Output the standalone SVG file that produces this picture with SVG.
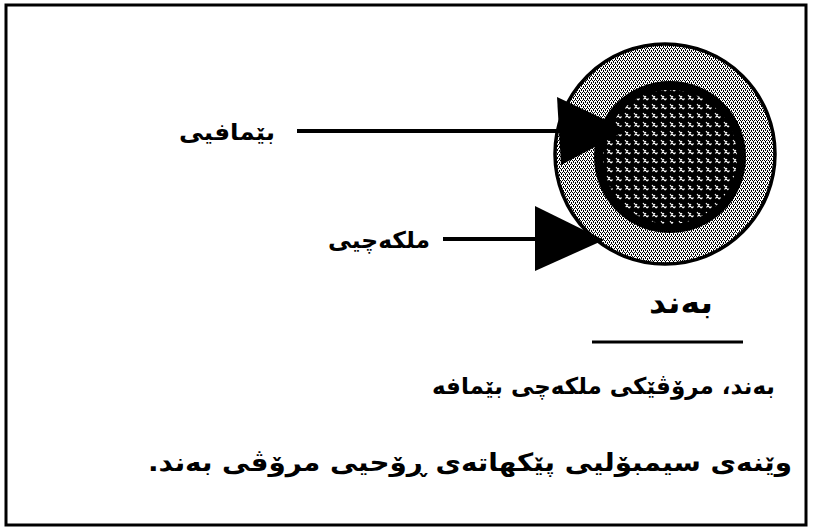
<svg xmlns="http://www.w3.org/2000/svg" width="813" height="528" viewBox="0 0 813 528">
<style>
.t{font-family:"DejaVu Sans","Noto Sans",sans-serif;font-weight:bold;fill:#000}
.ln{stroke:#000;stroke-width:4;fill:none}
.ah{fill:#000;stroke:none}
</style>
<defs>
<pattern id="dither" width="4" height="4" patternUnits="userSpaceOnUse">
<rect width="4" height="4" fill="#fff"/>
<rect x="0" y="0" width="1" height="1" fill="#000"/>
<rect x="2" y="0" width="1" height="1" fill="#000"/>
<rect x="1" y="2" width="1" height="1" fill="#000"/>
<rect x="3" y="2" width="1" height="1" fill="#000"/>
<rect x="1" y="1" width="1" height="1" fill="#000"/>
<rect x="3" y="3" width="1" height="1" fill="#000"/>
</pattern>
<pattern id="mesh" width="9" height="9" patternUnits="userSpaceOnUse" x="2" y="3">
<rect width="9" height="9" fill="#000"/>
<path d="M2 2 L6 7 M5 3 L2.5 6.5 M6 7 L7.5 5.5" stroke="#fff" stroke-width="1.2" fill="none"/>
</pattern>
</defs>
<rect x="0" y="0" width="813" height="528" fill="#fff"/>
<rect x="6" y="5" width="800" height="520" fill="none" stroke="#000" stroke-width="3"/>

<g id="symbol">
<circle cx="665" cy="154" r="110" fill="url(#dither)" stroke="#000" stroke-width="3.5"/>
<circle cx="670" cy="157" r="76" fill="#000"/>
<circle cx="670" cy="157" r="67" fill="url(#mesh)"/>
</g>

<g id="connectors">
<line class="ln" x1="297" y1="131" x2="562" y2="131"/>
<polygon class="ah" points="557,97 561,165 627,130"/>
<line class="ln" x1="443" y1="239" x2="537" y2="239"/>
<polygon class="ah" points="535,206 535,271 604,240"/>
<line x1="592" y1="342" x2="743" y2="342" stroke="#000" stroke-width="3"/>
</g>

<g id="label-bemafi">
<text class="t" x="227" y="140" font-size="23" text-anchor="middle" textLength="96" lengthAdjust="spacingAndGlyphs">بێمافیی</text>
</g>
<g id="label-milkechi">
<text class="t" x="379" y="248" font-size="23" text-anchor="middle" textLength="102" lengthAdjust="spacingAndGlyphs">ملکەچیی</text>
</g>
<g id="label-bend">
<text class="t" x="681" y="313" font-size="30" text-anchor="middle" textLength="64" lengthAdjust="spacingAndGlyphs">بەند</text>
</g>
<g id="caption1">
<text class="t" x="775" y="394" font-size="23" text-anchor="start" direction="rtl">بەند، مرۆڤێکی ملکەچی بێمافە</text>
</g>
<g id="caption2">
<text class="t" x="470" y="471" font-size="25" text-anchor="middle" direction="rtl" textLength="644" lengthAdjust="spacingAndGlyphs">وێنەی سیمبۆلیی پێکهاتەی ڕۆحیی مرۆڤی بەند.</text>
</g>
</svg>
